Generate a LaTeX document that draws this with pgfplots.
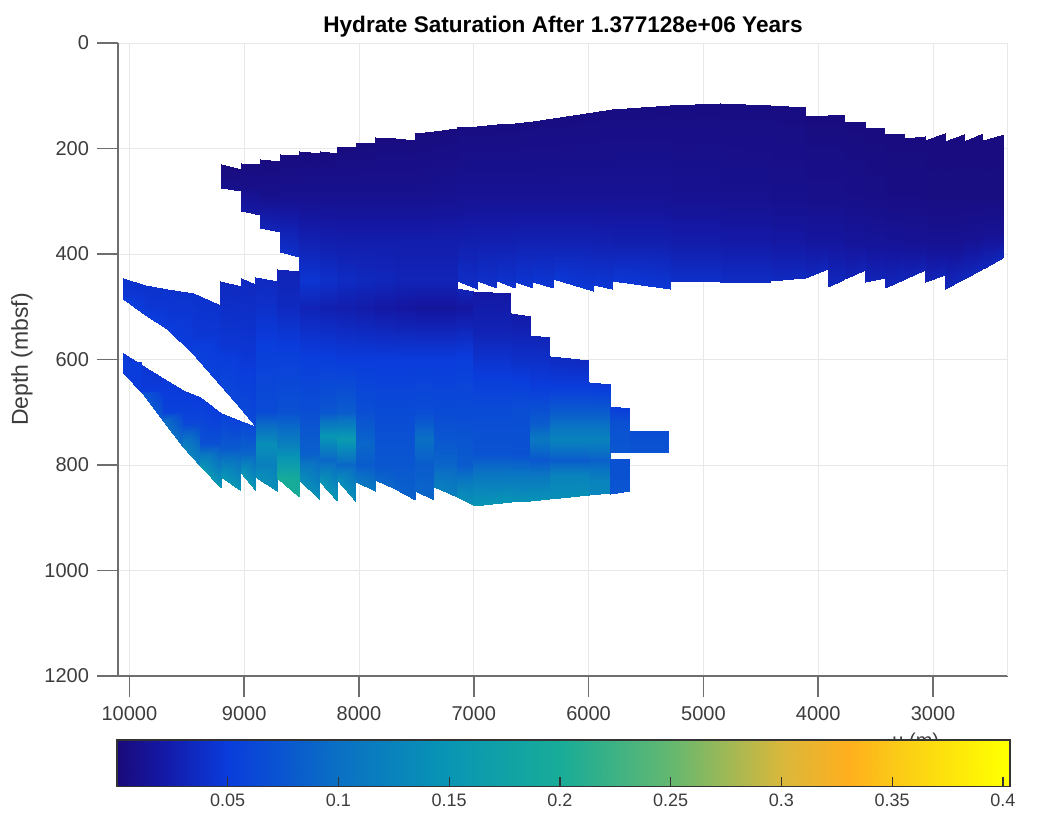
\documentclass[border=0pt]{standalone}
\usepackage{pgfplots}
\pgfplotsset{compat=1.18}
\usepackage{fontspec}
\setmainfont{Liberation Sans}
\definecolor{axgray}{HTML}{6E6E6E}
\definecolor{txtgray}{HTML}{3C3C3C}
\pgfplotsset{
  colormap={hyd}{rgb255(0pt)=(26,10,122) rgb255(2pt)=(20,24,164) rgb255(5pt)=(10,60,220)
    rgb255(10pt)=(10,112,196) rgb255(15pt)=(8,150,180) rgb255(20pt)=(24,172,152)
    rgb255(25pt)=(100,184,112) rgb255(30pt)=(216,184,60) rgb255(33pt)=(255,175,30)
    rgb255(35pt)=(251,200,24) rgb255(40pt)=(255,255,0)},
  cell/.style={surf,shader=interp,mesh/cols=2,point meta=explicit},
}
% one grid column: x left, x right, top left, top right, top value,
% inner depth/value pairs, bottom left, bottom right, bottom value
\newcommand\col[9]{%
  \xdef\pts{}%
  \foreach \py/\pc in {#6}{\xdef\pts{\pts (#1,\py)[\pc] (#2,\py)[\pc]}}%
  \edef\tmp{\noexpand\addplot[cell] coordinates {(#1,#3)[#5] (#2,#4)[#5] \pts (#1,#7)[#9] (#2,#8)[#9]};}%
  \tmp}
\begin{document}
\begin{tikzpicture}
\useasboundingbox (-59pt,-73.5pt) rectangle (464.5pt,338pt);
\begin{axis}[
    at={(0pt,0pt)},anchor=south west,
    scale only axis,width=445pt,height=316.5pt,
    x dir=reverse,y dir=reverse,
    xmin=2347,xmax=10099,ymin=0,ymax=1200,
    point meta min=0,point meta max=0.4,colormap name=hyd,
    xtick={3000,4000,...,10000},ytick={0,200,...,1200},
    scaled x ticks=false,scaled y ticks=false,
    grid=major,grid style={line width=0.3pt,black!9},
    axis x line*=bottom,axis y line*=left,
    axis line style={axgray,line width=0.9pt,-},
    tick style={axgray,line width=0.8pt},
    tick align=outside,major tick length=10.5pt,
    /pgf/number format/1000 sep={},/pgf/number format/assume math mode=true,
    tick label style={font=\fontsize{10}{12}\selectfont,text=txtgray},
    xticklabel style={yshift=-1pt},
    yticklabel style={xshift=-0.5pt},
    title={\textbf{Hydrate Saturation After 1.377128e+06 Years}},
    title style={font=\fontsize{11.3}{13}\selectfont,at={(0.5,1)},anchor=center,yshift=2pt},
    ylabel={Depth (mbsf)},
    ylabel style={font=\fontsize{11.5}{13}\selectfont,text=txtgray,at={(axis description cs:-0.108,0.5)},anchor=center},
    xlabel={u (m)},
    xlabel style={font=\fontsize{10}{12}\selectfont,text=txtgray,at={(axis cs:3150,1200)},anchor=center,yshift=-33pt},
  ]
  \addplot[line width=0.3pt,black!9] coordinates {(2350,0) (2350,1200)};
  % upper body, right to left
  \col{2565}{2385}{183}{173}{.003}{290/.004,360/.012}{428}{405}{.033}
  \col{2730}{2565}{185}{170}{.003}{290/.004,370/.012}{447}{428}{.033}
  \col{2895}{2730}{185}{173}{.003}{290/.004,380/.012}{467}{447}{.033}
  \col{3070}{2895}{183}{170}{.003}{290/.004,380/.012}{454}{439}{.03}
  \col{3245}{3070}{181}{177}{.003}{290/.005,380/.013}{448}{431}{.03}
  \col{3420}{3245}{173}{173}{.003}{290/.005,380/.014}{464}{448}{.032}
  \col{3590}{3420}{162}{162}{.003}{290/.006,380/.015}{454}{445}{.03}
  \col{3770}{3590}{149}{149}{.003}{290/.007,380/.016}{447}{431}{.03}
  \col{3915}{3770}{137}{136}{.003}{290/.008,380/.018}{462}{447}{.033}
  \col{4115}{3915}{139}{137}{.003}{290/.008,380/.018}{445}{429}{.033}
  \col{4420}{4115}{117}{122}{.004}{290/.009,380/.02}{452}{445}{.035}
  \col{4855}{4420}{113}{117}{.004}{290/.01,380/.022}{454}{454}{.037}
  \col{5290}{4855}{117}{113}{.004}{290/.011,380/.024}{452}{454}{.04}
  \col{5795}{5290}{126}{117}{.004}{290/.012,380/.026}{452}{467}{.046}
  \col{5960}{5795}{130}{126}{.004}{290/.012,380/.027}{458}{467}{.046}
  \col{6310}{5960}{143}{130}{.004}{290/.012,380/.028}{448}{471}{.046}
  \col{6485}{6310}{147}{143}{.004}{290/.012,380/.028}{454}{464}{.045}
  \col{6640}{6485}{151}{147}{.004}{290/.012,380/.028}{454}{464}{.044}
  \col{6800}{6640}{153}{151}{.004}{290/.012,380/.027}{452}{464}{.042}
  \col{6970}{6800}{158}{153}{.004}{290/.012,380/.027}{452}{464}{.04}
  \col{7145}{6970}{160}{158}{.004}{290/.012,380/.026}{452}{467}{.038}
  % left staircase of the upper body
  \col{9200}{9025}{230}{238}{.003}{255/.005}{274}{281}{.01}
  \col{9025}{8860}{228}{230}{.003}{270/.007}{319}{327}{.02}
  \col{8860}{8690}{219}{223}{.003}{290/.009}{350}{359}{.03}
  \col{8690}{8520}{211}{213}{.003}{290/.01}{397}{405}{.04}
  % joined part, upper body down to the lower teeth
  \col{8520}{8340}{204}{208}{.003}{290/.01,380/.028,450/.044,500/.03,600/.052,700/.068,780/.085}{828}{866}{.14}
  \col{8340}{8190}{204}{208}{.003}{290/.01,380/.026,450/.04,500/.027,600/.052,700/.075,745/.15,790/.09}{833}{868}{.15}
  \col{8190}{8030}{198}{198}{.003}{290/.01,380/.025,450/.036,500/.025,600/.05,700/.08,750/.16,800/.09}{828}{871}{.14}
  \col{8030}{7860}{189}{189}{.003}{290/.01,380/.025,450/.034,500/.023,600/.05,700/.068,760/.09,800/.08}{832}{850}{.11}
  \col{7860}{7690}{179}{181}{.003}{290/.01,380/.025,450/.032,500/.02,600/.05,700/.064,760/.072,800/.075}{828}{846}{.09}
  \col{7690}{7510}{181}{183}{.003}{290/.01,380/.025,450/.03,500/.018,600/.05,700/.064,760/.072,800/.075}{846}{866}{.085}
  \col{7510}{7350}{170}{167}{.003}{290/.01,380/.025,450/.03,500/.016,600/.05,700/.066,750/.1,800/.08}{850}{866}{.09}
  \col{7350}{7145}{167}{162}{.003}{290/.011,380/.025,450/.03,500/.016,600/.05,700/.064,750/.075,800/.09}{841}{860}{.12}
  % lower body, right of the joined part
  \col{7145}{7010}{464}{471}{.03}{500/.018,600/.052,700/.064,760/.075,800/.08,840/.12}{861}{875}{.14}
  \col{7010}{6680}{471}{473}{.02}{550/.03,650/.055,720/.068,780/.072,820/.11}{877}{871}{.15}
  \col{6680}{6510}{511}{518}{.022}{600/.04,700/.068,780/.07,820/.11}{871}{868}{.145}
  \col{6510}{6340}{553}{558}{.03}{650/.05,720/.08,750/.11,790/.076,820/.11}{868}{864}{.145}
  \col{6340}{6000}{594}{600}{.035}{650/.05,700/.08,750/.125,790/.08,820/.125}{864}{857}{.14}
  \col{6000}{5810}{642}{647}{.045}{700/.08,750/.125,790/.085,830/.125}{857}{853}{.13}
  \col{5810}{5640}{689}{691}{.05}{720/.07}{776}{776}{.075}
  \col{5810}{5640}{789}{789}{.07}{820/.07}{855}{850}{.075}
  \col{5640}{5300}{736}{736}{.065}{755/.07}{776}{776}{.072}
  % main part left of the joined part
  \col{8905}{8710}{443}{452}{.035}{500/.04,600/.055,700/.065,760/.14,800/.12}{822}{850}{.14}
  \col{8710}{8520}{428}{433}{.03}{500/.035,600/.055,700/.07,760/.12,820/.19}{824}{860}{.2}
  % upper wedge
  \col{10055}{9864}{445}{458}{.042}{480/.045}{486}{515}{.05}
  \col{9864}{9672}{458}{467}{.042}{500/.045}{515}{543}{.05}
  \col{9672}{9446}{467}{473}{.042}{510/.045}{543}{589}{.05}
  \col{9446}{9210}{473}{496}{.042}{550/.045}{589}{648}{.055}
  \col{9210}{9030}{452}{461}{.035}{570/.045}{648}{693}{.06}
  \col{9030}{8905}{446}{456}{.035}{590/.045}{693}{727}{.062}
  % lower wedge
  \col{10055}{9890}{588}{611}{.045}{605/.05}{625}{663}{.05}
  \col{9890}{9707}{611}{636}{.045}{660/.05}{663}{716}{.075}
  \col{9707}{9532}{636}{657}{.048}{700/.055}{716}{765}{.1}
  \col{9532}{9385}{657}{672}{.048}{720/.06}{765}{801}{.125}
  \col{9385}{9200}{672}{702}{.05}{760/.07}{801}{843}{.15}
  \col{9200}{9030}{702}{717}{.055}{770/.08}{822}{850}{.15}
  \col{9030}{8905}{717}{727}{.06}{780/.09}{815}{848}{.15}
\end{axis}
\begin{axis}[
    at={(-0.5pt,-55.35pt)},anchor=south west,
    scale only axis,width=446.5pt,height=23.35pt,
    xmin=0,xmax=0.4032,ymin=0,ymax=1,
    point meta min=0,point meta max=0.4,colormap name=hyd,
    ytick=\empty,xtick={0.05,0.1,...,0.4},
    xticklabels={0.05,0.1,0.15,0.2,0.25,0.3,0.35,0.4},
    xtick pos=bottom,tick align=inside,major tick length=5pt,
    tick style={black!80,line width=0.6pt},
    axis line style={black!80,line width=0.7pt},
    axis on top,
    tick label style={font=\fontsize{9}{11}\selectfont,text=txtgray},
  ]
  \addplot[surf,shader=interp,mesh/cols=12,point meta=x] coordinates {
    (0,0) (0.02,0) (0.05,0) (0.1,0) (0.15,0) (0.2,0) (0.25,0) (0.3,0) (0.33,0) (0.35,0) (0.4,0) (0.4032,0)
    (0,1) (0.02,1) (0.05,1) (0.1,1) (0.15,1) (0.2,1) (0.25,1) (0.3,1) (0.33,1) (0.35,1) (0.4,1) (0.4032,1)
  };
\end{axis}
\end{tikzpicture}
\end{document}
